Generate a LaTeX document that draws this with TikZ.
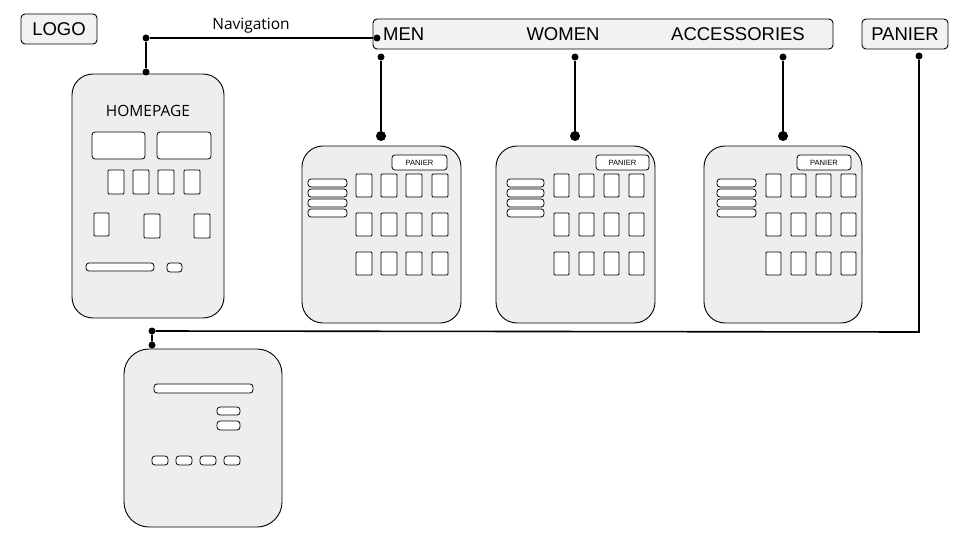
\documentclass[tikz,border=0pt]{standalone}
\usepackage{fontspec}
\setmainfont{Liberation Sans}
\newfontfamily\humfont{Open Sans}
\definecolor{pagegray}{HTML}{EEEEEE}
\definecolor{tabgray}{HTML}{F2F2F2}
\newcommand\pagenode[6]{\node[#1, minimum width={#4-#2}, minimum height={#5-#3}] (#6) at ({(#2+#4)/2},{(#3+#5)/2}) {};}
\begin{document}
\begin{tikzpicture}[x=1pt,y=-1pt,
  page/.style={draw=black, line width=0.9pt, fill=pagegray, rounded corners=21pt, inner sep=0pt, outer sep=0pt},
  tab/.style={draw=black, line width=0.9pt, fill=tabgray, rounded corners=4pt, inner sep=0pt, outer sep=0pt},
  wbox/.style={draw=black, line width=0.8pt, fill=white, rounded corners=1pt},
  rbox/.style={draw=black, line width=0.8pt, fill=white, rounded corners=3pt},
  link/.style={line width=1.6pt},
  dot/.style={circle, fill=black, inner sep=0pt, minimum size=7pt},
  bigdot/.style={circle, fill=black, inner sep=0pt, minimum size=10pt},
  bigtxt/.style={font=\fontsize{18.5}{18.5}\selectfont, inner sep=0pt},
  tinytxt/.style={font=\fontsize{7.6}{8}\selectfont, inner sep=0pt},
  humtxt/.style={font=\humfont\fontsize{15.5}{15.5}\selectfont, inner sep=0pt}]
\useasboundingbox (0,0) rectangle (960,540);

% header
\pagenode{tab}{21}{14}{97}{44}{logo}
\node[bigtxt] (logotxt) at (logo) {LOGO};
\pagenode{tab}{373}{19}{833}{49}{nav}
\node[bigtxt, anchor=west] (men) at (383,34) {MEN};
\node[bigtxt] (women) at (563,34) {WOMEN};
\node[bigtxt] (acc) at (738,34) {ACCESSORIES};
\pagenode{tab}{862}{19}{948}{49}{panier}
\node[bigtxt] (paniertxt) at (panier) {PANIER};
\node[humtxt, anchor=base] (navlabel) at (251,30) {Navigation};

% pages
\pagenode{page}{72}{74}{224}{318}{home}
\pagenode{page}{302}{146}{461}{323}{menpage}
\pagenode{page}{496}{146}{655}{323}{womenpage}
\pagenode{page}{704}{146}{862}{323}{accpage}
\pagenode{page,rounded corners=25pt}{124}{349}{282}{527}{cartpage}

% homepage content
\node[humtxt] (hometitle) at (148,111) {HOMEPAGE};
\draw[rbox] (92,132) rectangle (145,159);
\draw[rbox] (157,132) rectangle (211,159);
\foreach \x in {108,133,158,184} \draw[wbox] (\x,170) rectangle ++(16,24);
\draw[wbox] (94,213) rectangle (109,236);
\draw[wbox] (144,214) rectangle (160,238);
\draw[wbox] (194,214) rectangle (210,238);
\draw[rbox] (86,263) rectangle (154,271);
\draw[rbox] (167,263) rectangle (182,272);

% product pages content
\foreach \bl/\br/\pl/\pr/\ca/\cb/\cc/\cd/\w in {308/347/392/447/356/381/406/432/16, 507/544/596/649/554/579/604/629/15, 717/756/797/851/766/791/816/841/15}{
  \draw[rbox] (\pl,155) rectangle (\pr,170);
  \node[tinytxt] at ({(\pl+\pr)/2},162.5) {PANIER};
  \foreach \y in {179,189,199,209} \draw[rbox] (\bl,\y) rectangle (\br,\y+8);
  \foreach \x in {\ca,\cb,\cc,\cd}
    \foreach \y in {174,213,252} \draw[wbox] (\x,\y) rectangle ++(\w,23);
}

% cart page content
\draw[rbox] (154,384) rectangle (253,393);
\draw[rbox] (217,407) rectangle (240,415);
\draw[rbox] (217,421) rectangle (240,430);
\foreach \x in {152,176,200,224} \draw[rbox] (\x,456) rectangle ++(16,9);

% connectors
\node[dot] (hd1) at (146,38) {};
\node[dot] (hd2) at (146,72) {};
\node[dot] (hd3) at (377,38) {};
\draw[link] (hd2) -- (hd1) -- (hd3);

\node[dot] (md1) at (381,57) {};
\node[bigdot] (md2) at (381,136) {};
\draw[link] (md1) -- (md2);
\node[dot] (wd1) at (575,57) {};
\node[bigdot] (wd2) at (575,136) {};
\draw[link] (wd1) -- (wd2);
\node[dot] (ad1) at (783,57) {};
\node[bigdot] (ad2) at (783,136) {};
\draw[link] (ad1) -- (ad2);

\node[dot] (pd1) at (919,56) {};
\coordinate (corner) at (919,332);
\node[dot] (cd1) at (152,331) {};
\node[dot] (cd2) at (152,345) {};
\draw[link] (pd1) -- (corner) -- (cd1) -- (cd2);
\end{tikzpicture}
\end{document}
